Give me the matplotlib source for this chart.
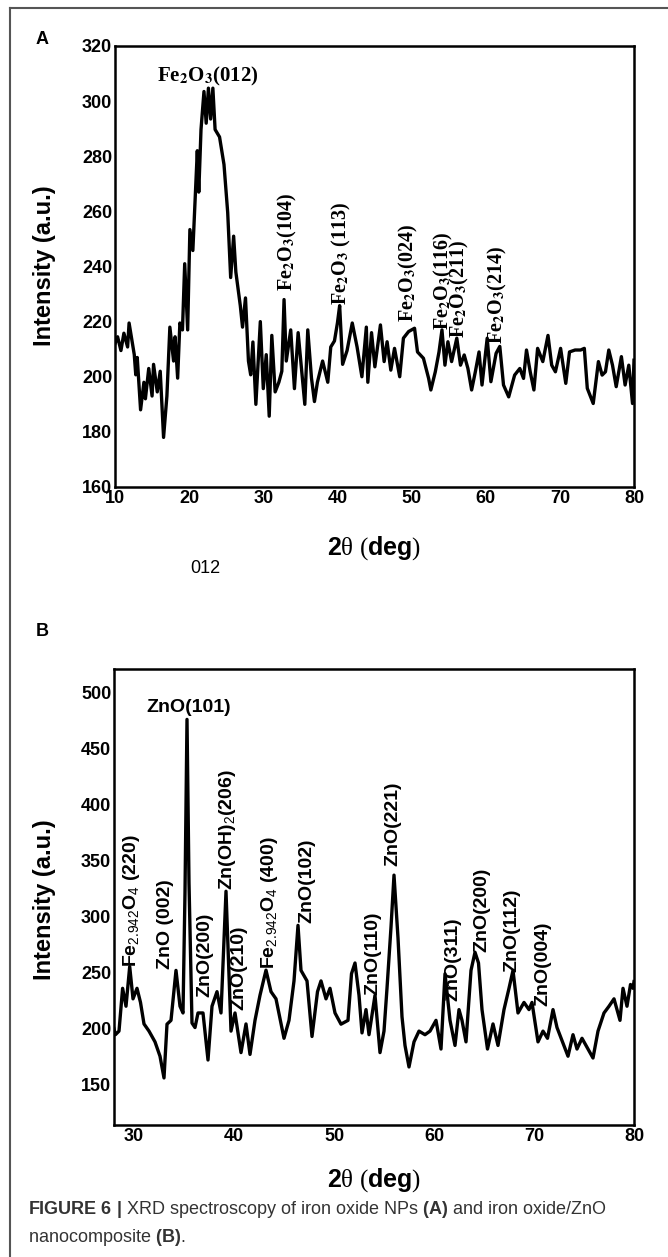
import matplotlib
matplotlib.use('Agg')
import matplotlib.pyplot as plt
from matplotlib.lines import Line2D

# ---- panel A: iron oxide NPs ----
a_deg = [10.0, 10.35, 10.8, 11.2, 11.7, 11.9, 12.2, 12.6, 12.8, 13.0,
         13.45, 13.9, 14.1, 14.55, 15.0, 15.2, 15.7, 16.1, 16.55, 17.0,
         17.4, 17.9, 18.1, 18.45, 18.75, 19.1, 19.4, 19.8, 20.1, 20.5,
         21.1, 21.3, 21.6, 22.0, 22.3, 22.6, 22.9, 23.2, 23.5, 24.1,
         24.7, 25.2, 25.6, 26.0, 26.3, 26.9, 27.2, 27.6, 28.0, 28.3,
         28.6, 29.0, 29.6, 30.0, 30.4, 30.8, 31.15, 31.6, 32.1, 32.5,
         32.8, 33.1, 33.7, 34.2, 34.7, 35.1, 35.6, 36.0, 36.5, 36.9,
         37.3, 38.0, 38.7, 39.1, 39.6, 40.0, 40.3, 40.7, 41.3, 42.0,
         42.65, 43.3, 43.9,
         44.1, 44.6, 45.05, 45.8, 46.3, 46.7, 47.2, 47.7, 48.4, 48.9,
         49.6, 50.4, 50.8, 51.6, 52.3, 52.6, 53.2, 53.7, 54.1, 54.5,
         54.9, 55.4, 56.1, 56.6, 57.1, 57.6, 58.1, 58.6, 59.1, 59.5,
         60.2, 60.7, 61.4, 61.9, 62.4, 63.1, 63.9, 64.6, 65.1, 65.5,
         66.0, 66.5, 67.0, 67.7, 68.4, 68.9, 69.4, 70.1, 70.8, 71.3,
         72.05, 72.8, 73.3, 73.7, 74.5, 75.2, 75.7, 76.15, 76.6, 77.1,
         77.6, 78.3, 78.8, 79.3, 79.8, 80.0]
a_int = [212, 214.5, 209.5, 215.8, 210.8, 219.5, 214.5, 208, 200.7, 207,
         188, 198, 192, 203, 193, 204.5, 194.5, 202, 178, 193,
         218, 205.7, 214.5, 199.5, 219.5, 217, 241, 217, 253.4, 245.8,
         282, 267, 289.7, 303.5, 292, 304.7, 293.5, 304.7, 289.7, 287,
         277, 259.6, 236, 251, 238, 225.8, 218, 228.6, 205.7, 200.7,
         212.6, 190, 220, 195.7, 208, 185.7, 215, 194.5, 198, 202,
         228, 205.7, 217, 195.7, 216, 204.5, 190, 217, 199.5, 191,
         198, 205.7, 198, 210.8, 213, 219.5, 225.8, 204.5, 209.5, 219.5,
         210.8, 200, 218,
         198, 216, 203.6, 218.8, 205.5, 212.7, 202.4, 210.3, 200, 214,
         216.4, 217.6, 209, 206.7, 199.4, 195.2, 201.8, 209, 217, 204.2,
         212.7, 205.5, 214, 204.2, 207.9, 203, 195.2, 201.8, 209, 197,
         214, 198.2, 208.5, 211, 197, 192.7, 200.6, 203, 199.4, 209.7,
         201.8, 195.2, 210.3, 205.5, 215, 204.2, 201.8, 210.3, 197.6, 209,
         209.7, 209.7, 210.3, 195.8, 190.3, 205.5, 200.6, 201.8, 209.7, 204.2,
         196.4, 207.3, 197, 204.2, 190.3, 206]

a_labels = [r'Fe$_\mathbf{2}$O$_\mathbf{3}$(104)', r'Fe$_\mathbf{2}$O$_\mathbf{3}$ (113)',
            r'Fe$_\mathbf{2}$O$_\mathbf{3}$(024)', r'Fe$_\mathbf{2}$O$_\mathbf{3}$(116)',
            r'Fe$_\mathbf{2}$O$_\mathbf{3}$(211)', r'Fe$_\mathbf{2}$O$_\mathbf{3}$(214)']
a_label_x = [33.2, 40.5, 49.6, 54.3, 56.4, 61.6]
a_label_y = [231, 226, 220, 217, 214, 212]

# ---- panel B: iron oxide/ZnO nanocomposite ----
b_deg = [28.0, 28.14, 28.5, 28.86, 29.2, 29.57, 29.9, 30.3, 30.65, 31.0,
         31.5, 32.1, 32.6, 33.0, 33.3, 33.7, 34.2, 34.6, 34.9, 35.1,
         35.3, 35.5, 35.8, 36.1, 36.4, 36.9, 37.4, 37.8, 38.3, 38.7,
         39.2, 39.7, 40.1, 40.7, 41.2, 41.6, 42.1, 42.6, 43.2, 43.7,
         44.2, 45.0, 45.5, 46.0, 46.4, 46.7, 47.3, 47.8, 48.35, 48.7,
         49.2, 49.6, 50.1, 50.7, 51.4, 51.75, 52.1, 52.5, 52.8, 53.2,
         53.5, 54.1, 54.6, 55.0, 55.3, 55.7, 56.0, 56.4, 56.8, 57.1,
         57.5, 58.0, 58.5, 59.1, 59.6, 60.2, 60.7, 61.1, 61.6, 62.1,
         62.5, 62.8, 63.2, 63.7, 64.1, 64.45, 64.8, 65.35, 65.9, 66.4,
         67.0, 67.5, 67.9, 68.4, 69.0, 69.5, 69.8, 70.4, 70.9, 71.35,
         71.9, 72.3, 72.85, 73.4, 73.9, 74.3, 74.8, 75.4, 75.9, 76.4,
         77.0, 77.5, 78.0, 78.6, 78.9, 79.3, 79.65, 79.9, 80.0]
b_int = [200, 194.6, 197.8, 236, 220, 255.4, 226.6, 236, 223.4, 204.2,
         197.8, 188.2, 175.4, 156, 204, 207.4, 252, 220, 214, 322,
         476, 330, 205, 201, 214, 214, 172, 220, 233, 214,
         322.6, 197.8, 214, 178.6, 204.2, 177, 207.4, 229.8, 252.2, 233,
         226.6, 191.4, 207.4, 242.6, 292.2, 252, 242.6, 193, 233, 242.6,
         226.6, 236, 214, 204, 207.4, 249, 258.6, 229.8, 196.2, 217,
         194.6, 229.8, 178.6, 197.8, 236, 290.6, 337, 281, 210.6, 185,
         165.8, 188.2, 197.8, 194.6, 197.8, 207.4, 181.8, 249, 207.4, 185,
         217, 207.4, 188.2, 252, 268.2, 258.6, 217, 181.8, 204.2, 185,
         217, 236, 252, 214, 223.4, 217, 223.4, 188.2, 197.8, 191.4,
         217, 201, 188.2, 175.4, 194.6, 181.8, 191.4, 181.8, 173.8, 197.8,
         214, 220, 226.6, 207.4, 236, 220, 239.4, 236, 242]

b_labels = [r'Fe$_{2.942}$O$_4$ (220)', 'ZnO (002)', 'ZnO(200)', r'Zn(OH)$_2$(206)',
            'ZnO(210)', r'Fe$_{2.942}$O$_4$ (400)', 'ZnO(102)', 'ZnO(110)',
            'ZnO(221)', 'ZnO(311)', 'ZnO(200)', 'ZnO(112)', 'ZnO(004)']
b_label_x = [29.75, 33.1, 37.1, 39.4, 40.5, 43.5, 47.3, 53.9, 55.85, 61.9, 64.8, 67.8, 70.9]
b_label_y = [255, 253, 228, 324, 217, 253, 294, 230, 345, 225, 268, 251, 220]

plt.rcParams['mathtext.fontset'] = 'custom'
plt.rcParams['mathtext.rm'] = 'Liberation Sans'
plt.rcParams['mathtext.bf'] = 'Liberation Sans:bold'
plt.rcParams['mathtext.it'] = 'Liberation Sans:italic'
plt.rcParams['font.family'] = ['Liberation Sans', 'DejaVu Sans']

W, H = 668, 1257
fig = plt.figure(figsize=(W / 100, H / 100), dpi=100)


def box(l, t, r, b):
    return [l / W, 1 - b / H, (r - l) / W, (b - t) / H]


def style(ax, xticks, yticks):
    ax.set_xticks(xticks)
    ax.set_yticks(yticks)
    for s in ax.spines.values():
        s.set_linewidth(1.8)
    ax.tick_params(length=0, pad=2)
    for lab in ax.get_xticklabels() + ax.get_yticklabels():
        lab.set_fontfamily(['Liberation Sans Narrow', 'Liberation Sans', 'DejaVu Sans'])
        lab.set_fontweight('bold')
        lab.set_fontsize(13)


# frame around the figure
fig.add_artist(Line2D([10 / W, 1], [1 - 8 / H, 1 - 8 / H], color='#555555', lw=1.5))
fig.add_artist(Line2D([10 / W, 10 / W], [1 - 8 / H, 0], color='#555555', lw=1.5))

# panel A
axA = fig.add_axes(box(115, 46, 634, 487))
axA.plot(a_deg, a_int, color='black', lw=2.4)
axA.set_xlim(10, 80)
axA.set_ylim(160, 320)
style(axA, range(10, 81, 10), range(160, 321, 20))
axA.text(22.5, 309, r'Fe$_\mathbf{2}$O$_\mathbf{3}$(012)', ha='center', va='center',
         family='Liberation Serif', weight='bold', size=15, math_fontfamily='stix')
for lab, x, y in zip(a_labels, a_label_x, a_label_y):
    axA.text(x, y, lab, rotation=90, ha='center', va='bottom',
             family='Liberation Serif', weight='bold', size=14.5, math_fontfamily='stix')

# panel B
axB = fig.add_axes(box(114, 669, 634, 1125))
axB.plot(b_deg, b_int, color='black', lw=2.4)
axB.set_xlim(28, 80)
axB.set_ylim(114, 521)
style(axB, range(30, 81, 10), range(150, 501, 50))
axB.text(35.5, 487, 'ZnO(101)', ha='center', va='center', weight='bold', size=14)
for lab, x, y in zip(b_labels, b_label_x, b_label_y):
    axB.text(x, y, lab, rotation=90, ha='center', va='bottom', weight='bold', size=14)

# axis titles
for yc in (266, 900):
    fig.text(45 / W, 1 - yc / H, 'Intensity (a.u.)', rotation=90, ha='center', va='center',
             weight='bold', size=17)
for yc in (548, 1180):
    fig.text(374 / W, 1 - yc / H, r'$\mathbf{2}$θ ($\mathbf{deg}$)', ha='center', va='center',
             family='Liberation Serif', size=18)

fig.text(42 / W, 1 - 40 / H, 'A', ha='center', va='center', weight='bold', size=13)
fig.text(42 / W, 1 - 632 / H, 'B', ha='center', va='center', weight='bold', size=13)
fig.text(205 / W, 1 - 568 / H, '012', ha='center', va='center', size=13)

fig.text(28 / W, 1 - 1210 / H,
         r'$\mathbf{FIGURE\ 6\ |}$ XRD spectroscopy of iron oxide NPs $\mathbf{(A)}$ and iron oxide/ZnO',
         ha='left', va='center', size=13, color='#333333')
fig.text(28 / W, 1 - 1237 / H, r'nanocomposite $\mathbf{(B)}$.',
         ha='left', va='center', size=13, color='#333333')

fig.savefig('out.png', dpi=100)
